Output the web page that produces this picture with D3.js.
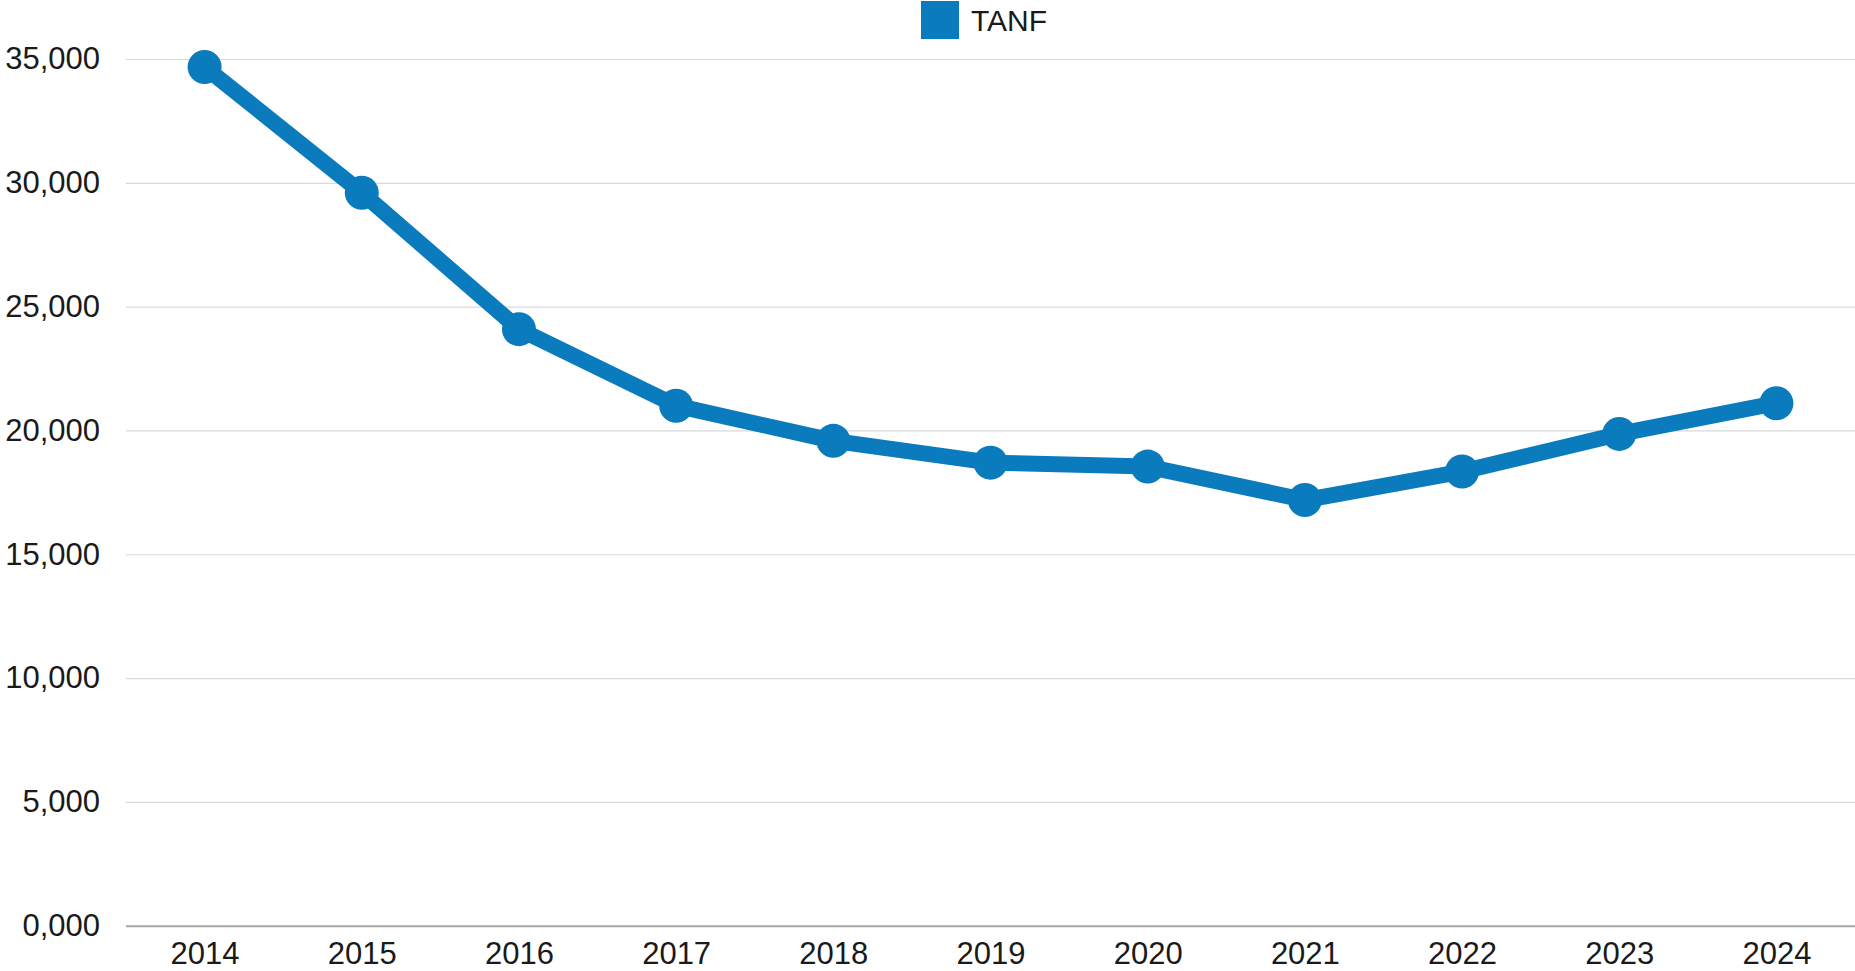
<!DOCTYPE html>
<html>
  <head>
    <meta charset="utf-8" />
    <title>TANF</title>
    <script src="https://cdn.jsdelivr.net/npm/d3@7/dist/d3.min.js"></script>
    <style>
      body { margin: 0; background: #fff; }
      text { font-family: "Liberation Sans", Arial, sans-serif; fill: #1a1a1a; }
    </style>
  </head>
  <body>
    <script>
      // data
      const years = ["2014", "2015", "2016", "2017", "2018", "2019", "2020", "2021", "2022", "2023", "2024"];
      const tanf = [34680, 29600, 24090, 21000, 19580, 18700, 18540, 17190, 18340, 19860, 21100];
      const yTicks = [0, 5000, 10000, 15000, 20000, 25000, 30000, 35000];
      const yTickLabels = ["0,000", "5,000", "10,000", "15,000", "20,000", "25,000", "30,000", "35,000"];
      const seriesName = "TANF";

      const w = 1855;
      const h = 971;
      const color = "#0a7bbd";

      const x = d3.scalePoint().domain(years).range([126, 1855]).padding(0.5);
      const y = d3.scaleLinear().domain([0, 35000]).range([925.7, 59]);

      const svg = d3.select("body").append("svg")
        .attr("width", w)
        .attr("height", h);

      // gridlines + y labels
      const yAxis = d3.axisLeft(y)
        .tickValues(yTicks)
        .tickSize(-(w - 126))
        .tickPadding(26)
        .tickFormat((d, i) => yTickLabels[i]);

      const gy = svg.append("g")
        .attr("transform", "translate(126,0)")
        .call(yAxis);
      gy.select(".domain").remove();
      gy.selectAll(".tick line").attr("stroke", "#d9d9d9").attr("stroke-width", 1.2);
      gy.selectAll(".tick text").attr("font-size", 31).attr("fill", "#1a1a1a");
      gy.selectAll(".tick").filter(d => d === 0).select("line").attr("stroke", "#a6a6a6").attr("stroke-width", 2);

      // x labels
      const xAxis = d3.axisBottom(x).tickSize(0).tickPadding(16);
      const gx = svg.append("g")
        .attr("transform", "translate(0," + y(0) + ")")
        .call(xAxis);
      gx.select(".domain").remove();
      gx.selectAll(".tick text").attr("font-size", 31).attr("fill", "#1a1a1a");

      // line
      const line = d3.line()
        .x((d, i) => x(years[i]))
        .y(d => y(d));

      svg.append("path")
        .datum(tanf)
        .attr("fill", "none")
        .attr("stroke", color)
        .attr("stroke-width", 16)
        .attr("stroke-linejoin", "round")
        .attr("d", line);

      svg.selectAll("circle.pt")
        .data(tanf)
        .enter()
        .append("circle")
        .attr("class", "pt")
        .attr("cx", (d, i) => x(years[i]))
        .attr("cy", d => y(d))
        .attr("r", 17)
        .attr("fill", color);

      // legend
      const lg = svg.append("g").attr("transform", "translate(921,1)");
      lg.append("rect").attr("width", 38).attr("height", 38).attr("fill", color);
      lg.append("text")
        .attr("x", 50)
        .attr("y", 30)
        .attr("font-size", 30)
        .text(seriesName);
    </script>
  </body>
</html>
